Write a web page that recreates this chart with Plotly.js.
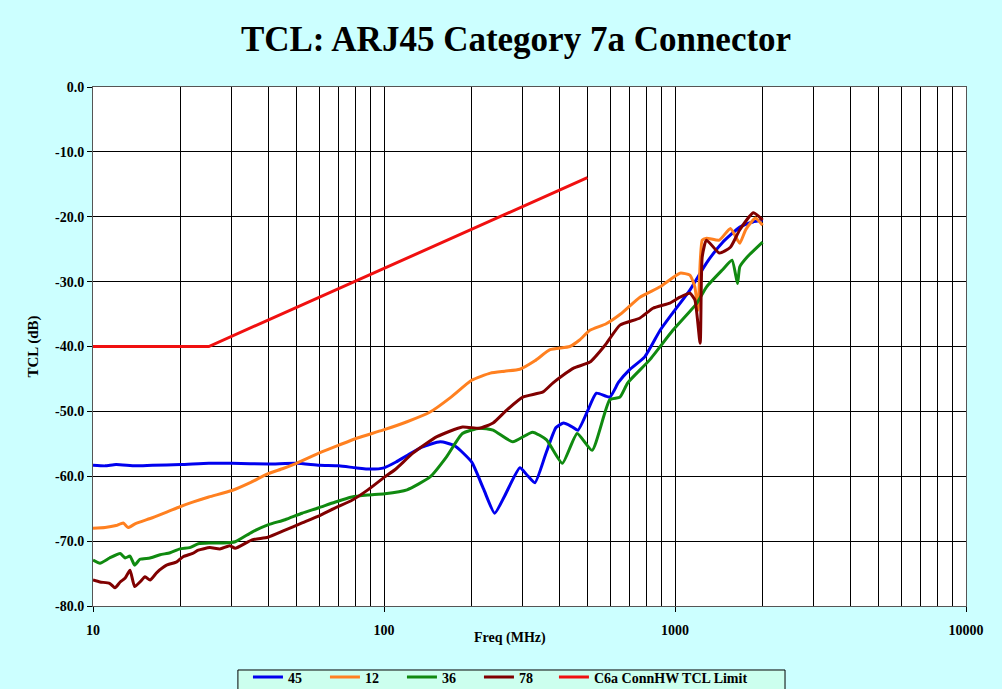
<!DOCTYPE html>
<html>
<head>
<meta charset="utf-8">
<script src="https://cdn.plot.ly/plotly-3.0.1.min.js"></script>
<style>html,body{margin:0;padding:0;background:#CCFFFF;}#chart{width:1002px;height:689px;}</style>
</head>
<body>
<div id="chart"></div>
<script>
// Frequencies (MHz) and TCL values (dB)
const f45 = [10, 11, 12, 14, 16, 20, 25, 30, 40, 50, 60, 70, 80, 90, 100, 110, 120, 135, 156, 175, 200, 220, 240, 260, 293, 310, 330, 360, 390, 414, 440, 464, 500, 537, 597, 640, 697, 787, 889, 983, 1125, 1284, 1454, 1670, 1850, 2000];
const v45 = [-58.3, -58.4, -58.2, -58.4, -58.3, -58.2, -58.0, -58.0, -58.1, -58.0, -58.3, -58.4, -58.7, -58.9, -58.7, -57.8, -56.8, -55.5, -54.7, -55.3, -57.8, -62.0, -65.7, -63.0, -58.7, -59.8, -61.0, -56.5, -52.5, -51.8, -52.3, -52.9, -50.0, -47.2, -47.8, -45.5, -43.6, -41.6, -37.5, -34.8, -31.3, -27.1, -24.0, -21.6, -20.8, -20.5];

const f12 = [10, 11, 12, 12.7, 13.2, 14, 16, 18, 19.9, 22, 25, 30, 35, 40, 45, 50, 60, 70, 81, 99, 120, 144, 170, 200, 232, 260, 293, 330, 372, 435, 470, 510, 580, 650, 758, 889, 1040, 1125, 1170, 1200, 1240, 1284, 1420, 1550, 1640, 1670, 1750, 1830, 1890, 2000];
const v12 = [-68.0, -67.9, -67.6, -67.2, -67.9, -67.3, -66.4, -65.5, -64.7, -64.0, -63.2, -62.2, -60.9, -59.6, -58.8, -58.0, -56.4, -55.2, -54.1, -52.9, -51.6, -50.1, -47.8, -45.2, -44.1, -43.8, -43.5, -42.2, -40.5, -40.0, -39.0, -37.5, -36.5, -35.0, -32.4, -30.8, -28.7, -29.0, -30.8, -34.4, -23.6, -23.3, -23.6, -21.8, -23.6, -24.1, -22.0, -20.8, -20.2, -21.3];

const f36 = [10, 10.57, 11.4, 12.4, 12.9, 13.4, 13.9, 14.5, 15.7, 17.0, 18.4, 19.9, 21.5, 23.0, 25.2, 28.0, 30.8, 35.2, 39.9, 45.7, 52.3, 59.3, 67.7, 77.6, 88.0, 100.6, 120, 144, 164, 186, 213, 237, 277, 324, 362, 410, 461, 519, 597, 647, 688, 817, 983, 1190, 1284, 1454, 1570, 1640, 1670, 1770, 2000];
const v36 = [-72.9, -73.4, -72.6, -71.9, -72.6, -72.3, -73.7, -72.8, -72.6, -72.1, -71.8, -71.2, -71.0, -70.4, -70.3, -70.3, -70.1, -68.6, -67.5, -66.7, -65.7, -64.9, -64.0, -63.2, -62.9, -62.7, -62.1, -60.1, -57.0, -53.4, -52.6, -52.9, -54.7, -53.2, -54.4, -58.0, -53.4, -56.0, -48.2, -47.8, -45.6, -42.1, -37.5, -33.3, -30.8, -28.2, -26.7, -30.3, -27.7, -26.2, -23.9];

const f78 = [10, 10.57, 11.4, 11.9, 12.4, 12.9, 13.4, 13.9, 14.5, 15.1, 15.7, 16.6, 17.9, 19.4, 20.4, 22.0, 23.0, 25.2, 27.3, 29.5, 30.8, 35.2, 39.9, 45.7, 52.3, 59.3, 67.7, 77.6, 88.0, 100.6, 109, 126, 152, 186, 213, 237, 264, 300, 352, 381, 410, 450, 510, 575, 647, 758, 840, 960, 1040, 1125, 1170, 1220, 1240, 1284, 1420, 1550, 1670, 1860, 2000];
const v78 = [-76.0, -76.3, -76.5, -77.2, -76.3, -75.7, -74.5, -77.0, -76.3, -75.5, -76.0, -74.8, -73.7, -73.2, -72.4, -71.9, -71.4, -71.0, -71.2, -70.7, -71.1, -69.8, -69.4, -68.3, -67.2, -66.2, -64.9, -63.7, -62.1, -60.1, -59.0, -56.4, -53.9, -52.4, -52.6, -51.8, -49.8, -47.8, -47.0, -45.6, -44.5, -43.3, -42.4, -39.8, -36.7, -35.6, -34.1, -33.3, -32.4, -31.8, -32.8, -39.5, -26.2, -23.6, -25.6, -24.7, -22.0, -19.4, -20.5];

const fLim = [10, 25, 500];
const vLim = [-40, -40, -13.98];

const seriesNames = ['45', '12', '36', '78', 'C6a ConnHW TCL Limit'];
const seriesColors = ['#0000EE', '#FF8020', '#108A10', '#800000', '#F01010'];
const xTickVals = [10, 100, 1000, 10000];
const xTickText = ['10', '100', '1000', '10000'];
const xMinorVals = [20,30,40,50,60,70,80,90,200,300,400,500,600,700,800,900,2000,3000,4000,5000,6000,7000,8000,9000];
const yTickVals = [0, -10, -20, -30, -40, -50, -60, -70, -80];
const yTickText = ['0.0', '-10.0', '-20.0', '-30.0', '-40.0', '-50.0', '-60.0', '-70.0', '-80.0'];

const xs = [f45, f12, f36, f78, fLim];
const ys = [v45, v12, v36, v78, vLim];
const traces = xs.map((x, i) => ({
  x: x, y: ys[i], name: seriesNames[i], type: 'scatter', mode: 'lines',
  legend: i === 4 ? 'legend2' : 'legend',
  line: {color: seriesColors[i], width: 3, shape: i === 4 ? 'linear' : 'spline', smoothing: 0.5}
}));

const serif = 'Liberation Serif, Times New Roman, serif';
const legendFont = {family: serif, size: 14, color: '#000', weight: 'bold'};
const layout = {
  width: 1002, height: 689,
  paper_bgcolor: '#CCFFFF', plot_bgcolor: '#FFFFFF',
  margin: {l: 93, r: 36, t: 87, b: 83},
  title: {text: '<b>TCL: ARJ45 Category 7a Connector</b>', font: {family: serif, size: 35, color: '#000'},
    x: 0.515, xanchor: 'center', xref: 'container', y: 0.944, yanchor: 'middle', yref: 'container'},
  showlegend: true,
  legend: {orientation: 'h', x: 0.1775, xanchor: 'left', y: 0.04, yanchor: 'top', yref: 'container',
    bgcolor: 'rgba(0,0,0,0)', borderwidth: 0, entrywidth: 32, entrywidthmode: 'pixels',
    font: legendFont, itemwidth: 30},
  legend2: {orientation: 'h', x: 0.528, xanchor: 'left', y: 0.04, yanchor: 'top', yref: 'container',
    bgcolor: 'rgba(0,0,0,0)', borderwidth: 0, font: legendFont, itemwidth: 30},
  shapes: [{type: 'rect', xref: 'paper', yref: 'paper', x0: 0.166, x1: 0.7927, y0: -0.1233, y1: -0.2,
    line: {color: '#000', width: 1}, fillcolor: '#CCFFEE', layer: 'below'}],
  annotations: [{text: '<b>Freq (MHz)</b>', xref: 'paper', yref: 'paper', x: 0.478, y: -0.061, xanchor: 'center', yanchor: 'middle',
    showarrow: false, font: {family: serif, size: 14, color: '#000'}}],
  xaxis: {type: 'log', range: [1, 4], tickvals: xTickVals, ticktext: xTickText,
    showgrid: true, gridcolor: '#000', gridwidth: 1,
    minor: {tickvals: xMinorVals, showgrid: true, gridcolor: '#000', gridwidth: 1, ticks: ''},
    ticks: 'outside', ticklen: 5, tickcolor: '#000', ticklabelstandoff: 6,
    showline: true, linecolor: '#555', mirror: true, zeroline: false,
    tickfont: {family: serif, size: 14, color: '#000', weight: 'bold'}},
  yaxis: {range: [-80, 0], tickvals: yTickVals, ticktext: yTickText,
    showgrid: true, gridcolor: '#000', gridwidth: 1,
    ticks: 'outside', ticklen: 5, tickcolor: '#000',
    showline: true, linecolor: '#555', mirror: true, zeroline: false,
    tickfont: {family: serif, size: 14, color: '#000', weight: 'bold'},
    title: {text: '<b>TCL (dB)</b>', font: {family: serif, size: 15, color: '#000'}, standoff: 12}}
};
Plotly.newPlot('chart', traces, layout, {displayModeBar: false, staticPlot: true});
</script>
</body>
</html>
